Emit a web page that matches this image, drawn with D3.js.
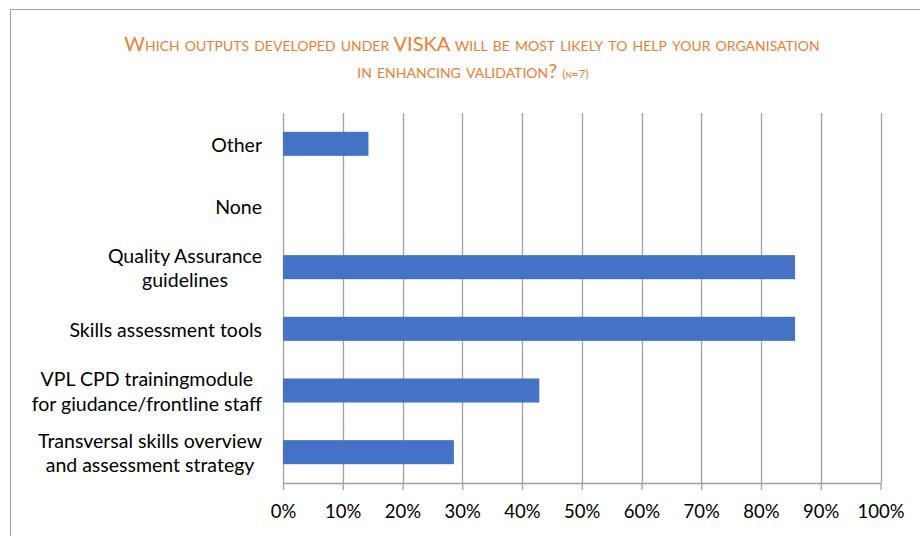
<!DOCTYPE html>
<html>
<head>
<meta charset="utf-8">
<script src="https://cdn.jsdelivr.net/npm/d3@7"></script>
<style>
  html, body { margin: 0; padding: 0; background: #fff; }
  svg { display: block; }
  text { font-family: Lato, "Open Sans", sans-serif; }
</style>
</head>
<body>
<svg id="chart" width="920" height="536"></svg>
<script>
// ---- data ----
const categories = [
  "Other",
  "None",
  "Quality Assurance guidelines",
  "Skills assessment tools",
  "VPL CPD trainingmodule for giudance/frontline staff",
  "Transversal skills overview and assessment strategy"
];
const categoryLines = [
  ["Other"],
  ["None"],
  ["Quality Assurance", "guidelines"],
  ["Skills assessment tools"],
  ["VPL CPD trainingmodule", "for giudance/frontline staff"],
  ["Transversal skills overview", "and assessment strategy"]
];
const values = [0.143, 0, 0.857, 0.857, 0.429, 0.286];
const tickValues = [0, 0.1, 0.2, 0.3, 0.4, 0.5, 0.6, 0.7, 0.8, 0.9, 1.0];
const titleLine1 = "Which outputs developed under VISKA will be most likely to help your organisation";
const titleLine2 = "in enhancing validation?";
const titleNote = "(n=7)";

// ---- layout ----
const svg = d3.select("#chart");
const plot = { left: 283, right: 880.5, top: 113, bottom: 483 };

// chart frame
svg.append("rect")
  .attr("x", 10.5).attr("y", 9.5)
  .attr("width", 940).attr("height", 560)
  .attr("fill", "#fff")
  .attr("stroke", "#a0a0a0").attr("stroke-width", 1);

const x = d3.scaleLinear().domain([0, 1]).range([plot.left, plot.right]);
const y = d3.scaleBand().domain(categories).range([plot.top, plot.bottom])
  .paddingInner(0.61).paddingOuter(0.305);

// gridlines
svg.append("g").selectAll("line").data(tickValues).join("line")
  .attr("x1", d => Math.round(x(d)) + 0.5).attr("x2", d => Math.round(x(d)) + 0.5)
  .attr("y1", plot.top).attr("y2", plot.bottom)
  .attr("stroke", "#a0a0a0").attr("stroke-width", 1.3);

// bars
svg.append("g").selectAll("rect").data(categories).join("rect")
  .attr("x", x(0))
  .attr("y", d => y(d))
  .attr("width", (d, i) => x(values[i]) - x(0))
  .attr("height", y.bandwidth())
  .attr("fill", "#4472c4");

// x axis
const xAxis = d3.axisBottom(x).tickValues(tickValues)
  .tickFormat(d3.format(".0%")).tickSize(7).tickSizeOuter(0).tickPadding(15);
const gx = svg.append("g").attr("transform", `translate(0,${plot.bottom})`).call(xAxis);
gx.select(".domain").attr("stroke", "#a0a0a0").attr("stroke-width", 1.3);
gx.selectAll(".tick line").attr("stroke", "#a0a0a0").attr("stroke-width", 1.3);
gx.selectAll(".tick text")
  .attr("font-family", "Lato, sans-serif")
  .attr("font-size", 18.5).attr("fill", "#000");

// y category labels (lines centred, block right-aligned)
const labelX = 262;
const lineH = 24.5;
const gy = svg.append("g");
categories.forEach((c, i) => {
  const lines = categoryLines[i];
  const cy = y(c) + y.bandwidth() / 2;
  const t = gy.append("text")
    .attr("font-size", 19.5).attr("fill", "#000")
    .attr("text-anchor", "middle");
  lines.forEach((ln, j) => {
    t.append("tspan")
      .attr("x", 0)
      .attr("y", cy + 8 + (j - (lines.length - 1) / 2) * lineH)
      .text(ln);
  });
  const w = t.node().getBBox().width;
  t.selectAll("tspan").attr("x", labelX - w / 2);
});

// title
const title = svg.append("g").attr("fill", "#ef7d32")
  .attr("text-anchor", "middle").style("font-variant", "small-caps");
title.append("text").attr("x", 472).attr("y", 51)
  .attr("font-size", 20).text(titleLine1);
const t2 = title.append("text").attr("x", 473).attr("y", 78).attr("font-size", 20);
t2.append("tspan").text(titleLine2 + " ");
t2.append("tspan").attr("font-size", 12).text(titleNote);
</script>
</body>
</html>
